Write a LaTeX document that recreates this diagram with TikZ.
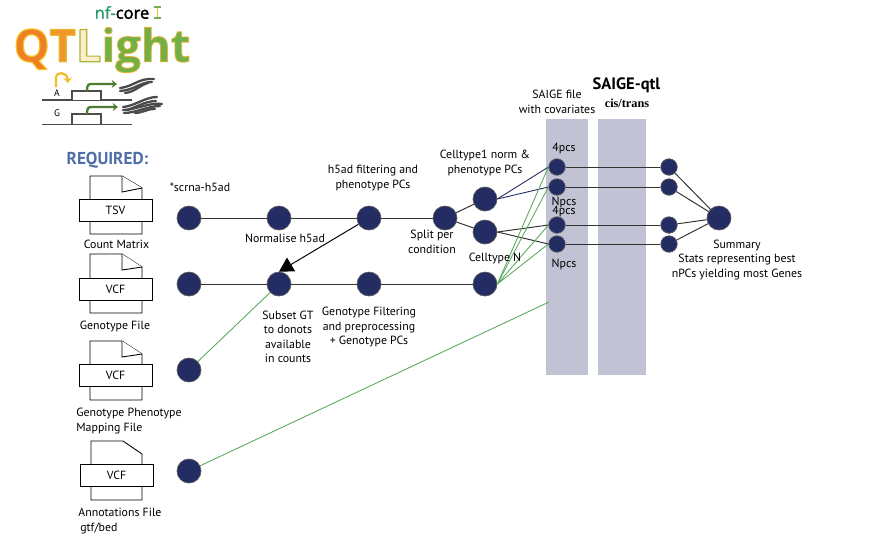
\documentclass[tikz,border=0pt]{standalone}
\usepackage{fontspec}
\setmainfont{PT Sans}
\newfontfamily\logofont{Open Sans}
\newfontfamily\cisfont{Liberation Serif}
\usetikzlibrary{arrows.meta}
\definecolor{stepnavy}{HTML}{232C63}
\definecolor{bandgrey}{HTML}{C1C3D5}
\definecolor{linkgreen}{HTML}{5BAA5E}
\definecolor{reqblue}{HTML}{4F6DA8}
\definecolor{logogreen}{HTML}{6FB048}
\definecolor{logoorange}{HTML}{EE7F26}
\definecolor{logoyellow}{HTML}{F7B92B}
\definecolor{readgrey}{HTML}{4A4A4A}
\newcommand{\logostroke}[2]{\special{pdf:code #1 RG 2 Tr #2 w 1 j}}
\newcommand{\logoplain}{\special{pdf:code 0 Tr}}
\begin{document}
\begin{tikzpicture}[x=0.02cm,y=-0.02cm,
  every node/.style={inner sep=0pt,font=\fontsize{6.75}{8.2}\selectfont,align=center},
  bigstep/.style={circle,draw=black!65,line width=0.4pt,fill=stepnavy,minimum size=0.48cm},
  smallstep/.style={circle,draw=black!65,line width=0.4pt,fill=stepnavy,minimum size=0.33cm},
  filetype/.style={draw,fill=white,line width=0.5pt,minimum width=1.46cm,minimum height=0.44cm},
  filepage/.style={draw,fill=white,line width=0.5pt},
  band/.style={fill=bandgrey},
  flow/.style={draw=black!80,line width=0.55pt},
  navylink/.style={draw=stepnavy,line width=0.5pt},
  greenlink/.style={draw=linkgreen,line width=0.5pt},
  gene/.style={draw=black!70,line width=1pt},
  transcript/.style={draw=logogreen!70!black,line width=1.3pt,-{Stealth[length=3pt,width=4.5pt]}},
  reads/.style={draw=readgrey,line width=1.3pt,line cap=round}]
\useasboundingbox (0,0) rectangle (890,539);

\fill [band] (546,119) rectangle (588,375);
\fill [band] (598,119) rectangle (646,375);

\node (nfcore) at (122,12.5) {\logofont\fontsize{9.4}{11}\selectfont\textcolor{logogreen!40!teal}{\logostroke{0.2 0.65 0.45}{0.15}nf-}\logostroke{0 0 0}{0.2}core\logoplain};
\draw [logogreen,line width=0.6pt] (154,7) -- (161,7) (154,18) -- (161,18);
\draw [logoyellow,line width=0.8pt] (157.5,8) -- (157.5,17);
\node (logo) at (102,50) {\logofont\bfseries\fontsize{25.8}{30}\selectfont
  \textcolor{logoorange}{\logostroke{0.96 0.76 0.15}{0.7}Q}%
  \textcolor{logoorange!60!logoyellow}{\logostroke{0.9 0.72 0.2}{0.7}T}%
  \textcolor{logoyellow!25!white}{\logostroke{0.65 0.72 0.2}{0.7}L}%
  \textcolor{logogreen}{\logostroke{0.9 0.7 0.2}{0.5}ight}\logoplain};

\draw [gene] (42,100) -- (132,100);
\draw [gene] (42,124.5) -- (132,124.5);
\draw [draw=black!70,fill=white,line width=0.6pt] (72,100) -- (72,91) -- (101,91) -- (101,100);
\draw [draw=black!70,fill=white,line width=0.6pt] (72,124) -- (72,114) -- (101,114) -- (101,124);
\draw [transcript] (87,91) .. controls (87,85) and (88,84) .. (92,84) -- (117,84);
\draw [transcript] (87,114) .. controls (87,108) and (88,107) .. (92,107) -- (118,107);
\draw [logoyellow,line width=1.3pt,-{Stealth[length=3pt,width=5pt]}] (56,87) -- (56,77) .. controls (56,72) and (67,71) .. (68,83);
\node (alleleA) at (57,93) {\fontsize{5.5}{6}\selectfont A};
\node (alleleG) at (57,113) {\fontsize{5.5}{6}\selectfont G};
\draw [reads] (120,88) .. controls (135,86) and (138,78) .. (154,79);
\draw [reads] (120,91) .. controls (135,90) and (140,82) .. (152,82);
\draw [reads] (125,93) .. controls (135,92) and (140,85) .. (148,83);
\draw [reads] (123,107) .. controls (135,106) and (145,97) .. (157,97);
\draw [reads] (123,110) .. controls (135,110) and (150,102) .. (162,104);
\draw [reads] (124,113) .. controls (135,113) and (148,106) .. (160,106);
\draw [reads] (127,110) .. controls (135,108) and (145,101) .. (156,101);
\draw [reads] (135,113) .. controls (142,113) and (150,108) .. (155,109);

\node (required) at (107.5,160) {\fontsize{9.8}{11}\selectfont\bfseries\textcolor{reqblue}{REQUIRED:}};

\draw [filepage] (90,234) -- (90,176) -- (122,176) -- (142,188) -- (142,234) -- cycle;
\draw [filepage] (122,176) -- (122,192) -- (142,188);
\node [filetype] (tsvbox) at (115.5,210) {TSV};
\node (tsvtext) at (116.5,244) {Count Matrix};
\draw [filepage] (90,313) -- (90,254) -- (122,254) -- (142,267) -- (142,313) -- cycle;
\draw [filepage] (122,254) -- (122,270) -- (142,267);
\node [filetype] (vcfbox) at (115.5,289) {VCF};
\node (vcftext) at (115,326) {Genotype File};
\draw [filepage] (90,400) -- (90,341) -- (122,341) -- (142,354) -- (142,400) -- cycle;
\draw [filepage] (122,341) -- (122,357) -- (142,354);
\node [filetype] (mapbox) at (115.5,375) {VCF};
\node [anchor=north west,align=left] (maptext) at (76,408) {Genotype Phenotype\\Mapping File};
\draw [filepage] (91,500) -- (91,441) -- (123,441) -- (142,454) -- (142,500) -- cycle;
\node [filetype] (annotbox) at (116.5,475.5) {VCF};
\node [anchor=north west,align=left] (annottext) at (78,508) {Annotations File\\\,gtf/bed};

\node [bigstep] (h5ad) at (189,218) {};
\node [bigstep] (norm) at (279,218) {};
\node [bigstep] (filter) at (369,218) {};
\node [bigstep] (split) at (445,218) {};
\node [bigstep] (cellone) at (485,199) {};
\node [bigstep] (celltwo) at (485,232) {};
\node [bigstep] (geno) at (189,284) {};
\node [bigstep] (subset) at (279,284) {};
\node [bigstep] (genofilter) at (369,284) {};
\node [bigstep] (celln) at (485,284) {};
\node [bigstep] (mapping) at (189,370) {};
\node [bigstep] (annot) at (189,471) {};
\node [smallstep] (saigea) at (557,167) {};
\node [smallstep] (saigeb) at (557,187) {};
\node [smallstep] (saigec) at (557,225) {};
\node [smallstep] (saiged) at (557,244) {};
\node [smallstep] (qtla) at (669,167) {};
\node [smallstep] (qtlb) at (669,187) {};
\node [smallstep] (qtlc) at (669,225) {};
\node [smallstep] (qtld) at (669,244) {};
\node [bigstep] (summary) at (719,218) {};
\coordinate (annotend) at (549,302);

\draw [flow] (h5ad) -- (norm);
\draw [flow] (norm) -- (filter);
\draw [flow] (filter) -- (split);
\draw [flow] (split) -- (cellone);
\draw [flow] (split) -- (celltwo);
\draw [flow] (geno) -- (subset);
\draw [flow] (subset) -- (genofilter);
\draw [flow] (genofilter) -- (celln);
\draw [draw=black,line width=0.55pt,-{Triangle[length=8pt,width=9pt]}] (filter) -- (subset.north);
\draw [navylink] (cellone.east) -- (saigea.west);
\draw [navylink] (cellone.east) -- (saigeb.west);
\draw [flow] (celltwo.east) -- (saigec.west);
\draw [flow] (celltwo.east) -- (saiged.west);
\draw [greenlink] (celln.east) -- (saigea.west);
\draw [greenlink] (celln.east) -- (saigeb.west);
\draw [greenlink] (celln.east) -- (saigec.west);
\draw [greenlink] (celln.east) -- (saiged.west);
\draw [greenlink] (subset) -- (mapping);
\draw [greenlink] (annot) -- (annotend);
\draw [flow] (saigea) -- (qtla);
\draw [flow] (saigeb) -- (qtlb);
\draw [flow] (saigec) -- (qtlc);
\draw [flow] (saiged) -- (qtld);
\draw [flow] (qtla) -- (summary);
\draw [flow] (qtlb) -- (summary);
\draw [flow] (qtlc) -- (summary);
\draw [flow] (qtld) -- (summary);

\node (h5adtext) at (200,187) {*scrna-h5ad};
\node (normtext) at (285,238) {Normalise h5ad};
\node (filtertext) at (373,178) {h5ad filtering and\\phenotype PCs};
\node (splittext) at (432,242) {Split per\\condition};
\node (cellonetext) at (485,163) {Celltype1 norm \&\\phenotype PCs};
\node (cellntext) at (495,258) {Celltype N};
\node (subsettext) at (288,337) {Subset GT\\to donots\\available\\in counts};
\node (genofiltertext) at (369,327) {Genotype Filtering\\and preprocessing\\+ Genotype PCs};
\node (saigetext) at (557,102) {SAIGE file\\with covariates};
\node (qtltitle) at (626.5,85) {\fontsize{9.4}{12}\selectfont\bfseries SAIGE-qtl};
\node (cistitle) at (627,103) {\fontsize{7}{8}\selectfont\bfseries\cisfont cis/trans};
\node (pcsa) at (564,148) {4pcs};
\node (npcsa) at (564,202) {Npcs};
\node (pcsb) at (564,211) {4pcs};
\node (npcsb) at (564,264) {Npcs};
\node (summarytext) at (737,260) {Summary\\Stats representing best\\nPCs yielding most Genes};
\end{tikzpicture}
\end{document}
